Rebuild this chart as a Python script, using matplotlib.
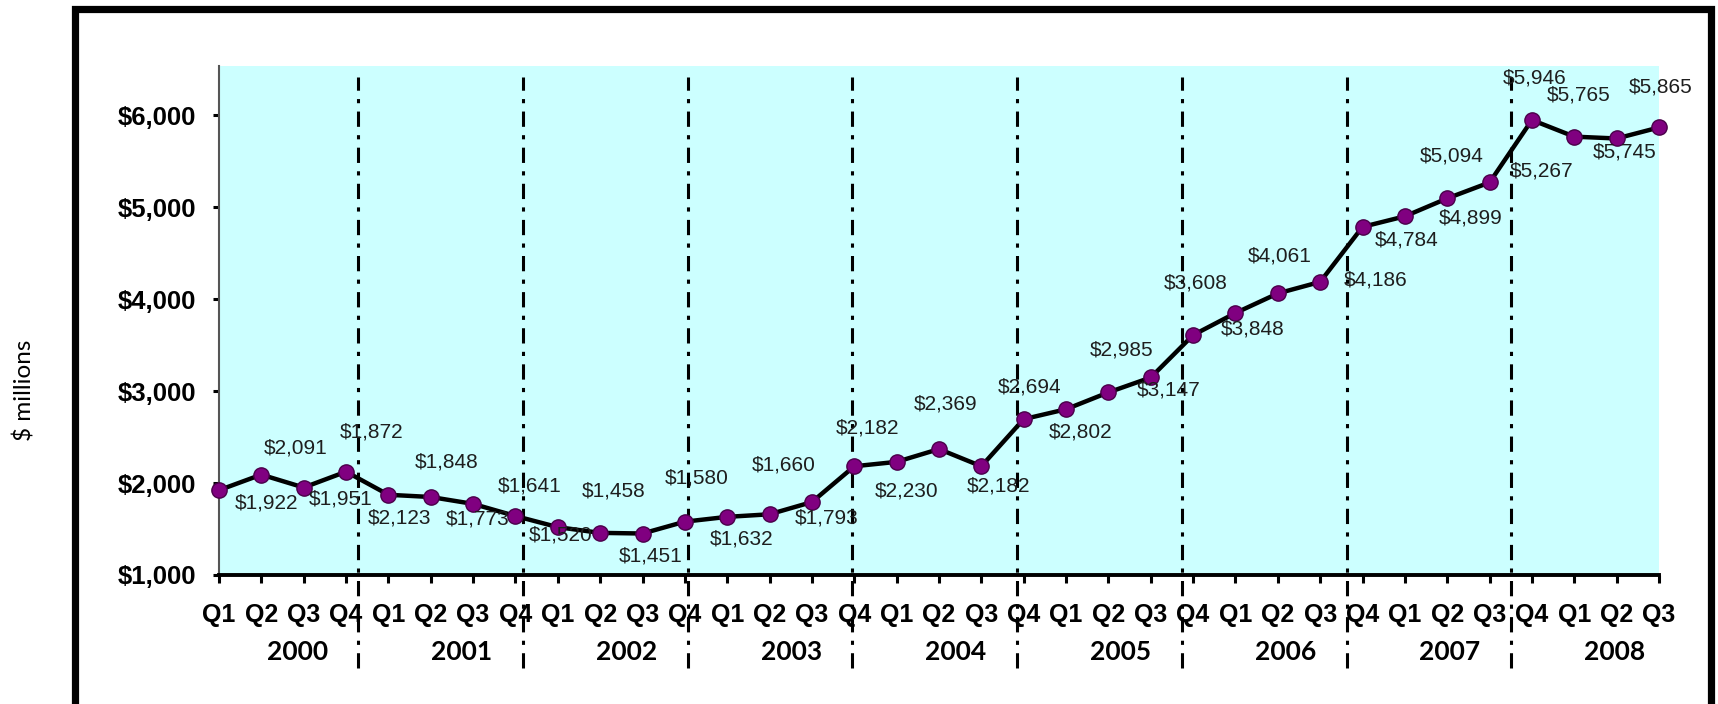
import matplotlib
matplotlib.use("Agg")
import matplotlib.pyplot as plt
import matplotlib.transforms as mtransforms
from matplotlib.patches import Rectangle
import numpy as np

# quarterly values, $ millions, 2000 Q1 .. 2008 Q3
quarters = ["Q1", "Q2", "Q3", "Q4"] * 8 + ["Q1", "Q2", "Q3"]
years = ["2000", "2001", "2002", "2003", "2004", "2005", "2006", "2007", "2008"]
values = [1922, 2091, 1951, 2123, 1872, 1848, 1773, 1641,
          1520, 1458, 1451, 1580, 1632, 1660, 1793, 2182,
          2230, 2369, 2182, 2694, 2802, 2985, 3147, 3608,
          3848, 4061, 4186, 4784, 4899, 5094, 5267, 5946,
          5765, 5745, 5865]
yticks = [1000, 2000, 3000, 4000, 5000, 6000]

# where each data label sits relative to its point (pixels, y up) - the original is messy
label_offsets = [(48, -13), (34, 27), (37, -11), (53, -46), (-17, 63), (16, 35), (5, -15),
                 (14, 30), (3, -8), (13, 42), (8, -22), (12, 44), (14, -22), (14, 49),
                 (15, -16), (13, 38), (10, -29), (7, 45), (17, -20), (6, 32), (15, -23),
                 (13, 42), (18, -13), (3, 52), (17, -16), (2, 37), (55, 2), (44, -13),
                 (66, -2), (4, 42), (52, 11), (3, 42), (4, 42), (8, -14), (2, 40)]

plt.rcParams["lines.scale_dashes"] = False

fig = plt.figure(figsize=(17.18, 7.04), dpi=100)
ax = fig.add_axes([219 / 1718, 1 - 575 / 704, (1659 - 219) / 1718, (575 - 66) / 704])
ax.set_facecolor("#CCFFFF")

x = np.arange(len(values))
ax.plot(x, values, color="black", lw=3.2, marker="o", ms=11,
        markerfacecolor="#800080", markeredgecolor="#4a004a", mew=1, clip_on=False, zorder=5)

for i, v in enumerate(values):
    ax.annotate("${:,}".format(v), (i, v), xytext=label_offsets[i], textcoords="offset pixels",
                ha="center", va="center", fontsize=15, family="Liberation Sans",
                color="#1e1e1e", zorder=6, annotation_clip=False)

ax.set_xlim(0, len(values) - 1)
ax.set_ylim(1000, 6533)

ax.set_xticks(x)
ax.set_xticklabels(quarters, fontsize=18, fontweight="bold", family="Liberation Sans")
ax.set_yticks(yticks)
ax.set_yticklabels(["${:,}".format(t) for t in yticks], fontsize=18.5, fontweight="bold",
                   family="Liberation Sans")
ax.tick_params(axis="x", length=6, width=2.2, pad=14, color="black")
ax.tick_params(axis="y", length=4.5, width=2.2, pad=12, color="black")

for s in ["top", "right"]:
    ax.spines[s].set_visible(False)
ax.spines["left"].set_color("#555555")
ax.spines["left"].set_linewidth(1.5)
ax.spines["bottom"].set_linewidth(2.8)

# year separators and year names, on a 9-slot band across the quarters
span = len(values)
step = span / len(years)
trans = mtransforms.blended_transform_factory(ax.transData, ax.transAxes)
for k in range(1, len(years)):
    ax.axvline(-0.6 + k * step, ymin=-0.183, ymax=0.978, color="black", lw=2.2,
               dashes=(11, 6, 3, 6), clip_on=False, zorder=4)
for k, yr in enumerate(years):
    ax.text(-0.1 + (k + 0.5) * step, -0.151, yr, transform=trans, ha="center", va="center",
            fontsize=19, fontweight="bold", family="Lato")

fig.text(24 / 1718, 1 - 390 / 704, "$ millions", rotation=90, ha="center", va="center",
         fontsize=17.5, family="Lato")

# outer frame, bottom edge runs off the image
fig.patches.append(Rectangle((74.5 / 1718, -0.1), (1711 - 74.5) / 1718, 1.1 - 9.5 / 704,
                             transform=fig.transFigure, fill=False, lw=5.2, ec="black"))

fig.savefig("out.png", dpi=100)
